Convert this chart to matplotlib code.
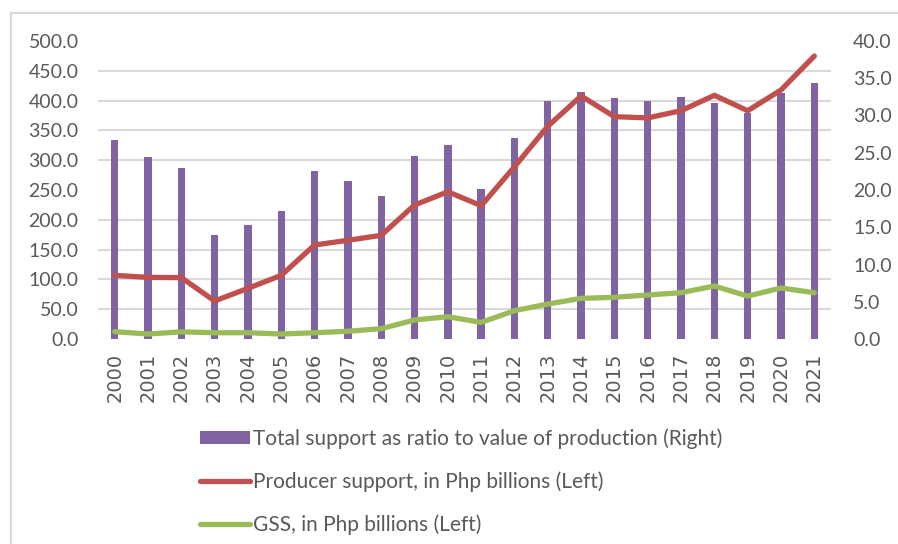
import matplotlib
matplotlib.use("Agg")
import matplotlib.pyplot as plt
from matplotlib.patches import Rectangle
from matplotlib.ticker import MultipleLocator, FormatStrFormatter

plt.rcParams['font.family'] = ['Lato', 'DejaVu Sans']

# ---- data ----
years = [str(y) for y in range(2000, 2022)]
ratio_pct = [26.7, 24.4, 23.0, 14.0, 15.3, 17.2, 22.6, 21.2, 19.2, 24.6, 26.0,
             20.2, 27.0, 32.0, 33.2, 32.3, 32.0, 32.5, 31.7, 30.3, 33.0, 34.3]
producer_support = [106.8, 103.4, 103.0, 63.8, 85.0, 106.8, 157.7, 165.6, 174.0,
                    224.8, 247.0, 223.7, 289.0, 357.0, 407.7, 373.0, 371.0, 383.0,
                    408.9, 383.0, 417.8, 474.8]
gss = [12.3, 8.4, 12.0, 10.5, 10.5, 8.4, 10.5, 13.0, 17.3, 31.9, 37.4, 27.9,
       47.5, 58.7, 68.2, 70.0, 73.8, 77.7, 88.9, 72.0, 85.6, 77.7]

lbl_bar = "Total support as ratio to value of production (Right)"
lbl_ps = "Producer support, in Php billions (Left)"
lbl_gss = "GSS, in Php billions (Left)"

purple = "#8064A2"
red = "#C0504D"
green = "#9BBB59"
grid_c = "#D9D9D9"
txt_c = "#595959"

fig = plt.figure(figsize=(8.98, 5.44), dpi=100)
ax = fig.add_axes([98/898, 1-339/544, (831-98)/898, (339-41)/544])
ax2 = ax.twinx()

x = list(range(len(years)))

# bars on the right axis, lines on the left axis drawn above them
bars = ax2.bar(x, ratio_pct, width=0.22, color=purple, zorder=2, label=lbl_bar)
ax.set_zorder(ax2.get_zorder() + 1)
ax.patch.set_visible(False)
l1, = ax.plot(x, producer_support, color=red, lw=3.8, solid_capstyle='round',
              solid_joinstyle='round', label=lbl_ps)
l2, = ax.plot(x, gss, color=green, lw=3.8, solid_capstyle='round',
              solid_joinstyle='round', label=lbl_gss)

ax.set_xlim(-0.5, len(years) - 0.5)
ax.set_ylim(0, 500)
ax2.set_ylim(0, 40)

ax.yaxis.set_major_locator(MultipleLocator(50))
ax.yaxis.set_major_formatter(FormatStrFormatter('%.1f'))
ax2.yaxis.set_major_locator(MultipleLocator(5))
ax2.yaxis.set_major_formatter(FormatStrFormatter('%.1f'))

# gridlines follow the left axis but must sit behind the bars
ax2.yaxis.set_minor_locator(MultipleLocator(4))
ax2.set_axisbelow(True)
ax2.grid(axis='y', which='minor', color=grid_c, lw=1.5)
ax2.tick_params(axis='y', which='minor', length=0)

ax.set_xticks(x)
ax.set_xticklabels(years, rotation=90, family='Liberation Sans Narrow', fontsize=13)

for a in (ax, ax2):
    for s in a.spines.values():
        s.set_visible(False)
ax.tick_params(axis='both', length=0, labelcolor=txt_c, labelsize=14)
ax.tick_params(axis='y', pad=14)
ax.tick_params(axis='x', pad=10)
ax2.tick_params(axis='y', which='major', length=0, labelcolor=txt_c, labelsize=14, pad=16)

leg = fig.legend(handles=[bars, l1, l2], loc='upper left',
                 bbox_to_anchor=(200/898, 1-428/544), frameon=False,
                 fontsize=15, labelcolor=txt_c, handlelength=2.4,
                 handleheight=0.6, handletextpad=0.15, labelspacing=1.08,
                 borderaxespad=0, borderpad=0)

# outer chart border (only the left and top edges show)
fig.patches.append(Rectangle((11/898, -0.2), 2, 1 - 13/544 + 0.2,
                             transform=fig.transFigure, fill=False,
                             edgecolor=grid_c, lw=1.5))

fig.savefig("out.png", dpi=100)
